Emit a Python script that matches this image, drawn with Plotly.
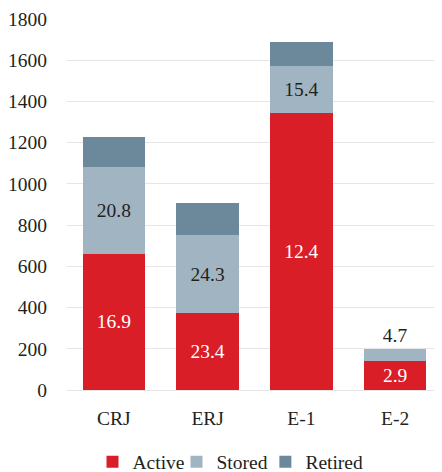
import plotly.graph_objects as go

categories = ["CRJ", "ERJ", "E-1", "E-2"]
active = [660, 372, 1346, 140]
stored = [420, 379, 224, 58]
retired = [146, 156, 118, 0]
active_labels = ["16.9", "23.4", "12.4", "2.9"]
stored_labels = ["20.8", "24.3", "15.4", "4.7"]
y_ticks = [0, 200, 400, 600, 800, 1000, 1200, 1400, 1600, 1800]

FONT = "Times New Roman, Liberation Serif, DejaVu Serif, serif"
FS = 19.5
TXT = "#231f20"

fig = go.Figure()
fig.add_trace(go.Bar(
    name="Active", x=categories, y=active, marker_color="#d91e28",
    text=active_labels, textposition="inside", insidetextanchor="middle",
    textangle=0, textfont=dict(color="white", family=FONT, size=FS),
    marker_line_width=0, legend="legend",
))
fig.add_trace(go.Bar(
    name="Stored", x=categories, y=stored, marker_color="#a1b4c1",
    text=stored_labels, textposition=["inside", "inside", "inside", "outside"],
    insidetextanchor="middle", textangle=0,
    textfont=dict(color=TXT, family=FONT, size=FS),
    marker_line_width=0, cliponaxis=False, legend="legend2",
))
fig.add_trace(go.Bar(
    name="Retired", x=categories, y=retired, marker_color="#6b899b",
    marker_line_width=0, legend="legend3",
))

leg = dict(orientation="h", xanchor="left", y=-0.194, yanchor="middle",
           font=dict(family=FONT, size=FS, color=TXT), itemwidth=30,
           bgcolor="rgba(0,0,0,0)")

# page body has an 8px default margin, so the figure is sized to fit the window
fig.update_layout(
    width=434, height=464,
    barmode="stack", bargap=0.333,
    plot_bgcolor="white", paper_bgcolor="white",
    font=dict(family=FONT, size=FS, color=TXT),
    margin=dict(l=59, r=0, t=11, b=82, autoexpand=False),
    uniformtext=dict(minsize=FS, mode="show"),
    showlegend=True,
    legend=dict(leg, x=0.068),
    legend2=dict(leg, x=0.292),
    legend3=dict(leg, x=0.529),
    xaxis=dict(showline=False, ticks="outside", ticklen=11, automargin=False,
               tickcolor="rgba(0,0,0,0)", showgrid=False),
    yaxis=dict(range=[0, 1800], tickvals=y_ticks, showgrid=True, automargin=False,
               gridcolor="#e6e6e6", gridwidth=1.3, zeroline=True,
               zerolinecolor="#e6e6e6", zerolinewidth=1.3, showline=False,
               ticks="outside", ticklen=15, tickcolor="rgba(0,0,0,0)"),
)

fig.write_html("out.html")
